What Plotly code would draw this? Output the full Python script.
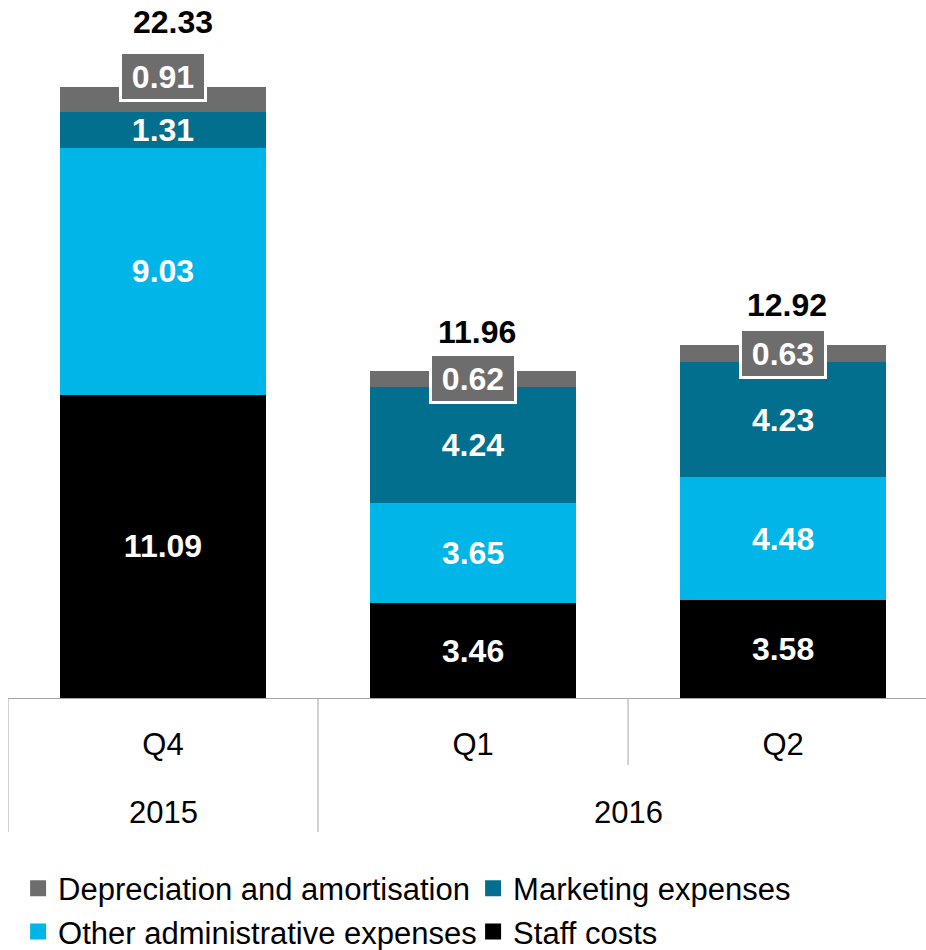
import plotly.graph_objects as go

years = ["2015", "2016", "2016"]
quarters = ["Q4", "Q1", "Q2"]
staff = [11.09, 3.46, 3.58]
other_admin = [9.03, 3.65, 4.48]
marketing = [1.31, 4.24, 4.23]
depreciation = [0.91, 0.62, 0.63]
totals = [22.33, 11.96, 12.92]

FONT = "Liberation Sans, Arial, sans-serif"
NUM_SIZE = 32
LBL_SIZE = 31
C_DEP = "#6d6d6d"
C_MKT = "#026f8e"
C_OTH = "#00b5e8"
C_STF = "#000000"

x = [0, 1, 2]

fig = go.Figure()
series = [
    ("Staff costs", staff, C_STF, True),
    ("Other administrative expenses", other_admin, C_OTH, True),
    ("Marketing expenses", marketing, C_MKT, True),
    ("Depreciation and amortisation", depreciation, C_DEP, False),
]
for name, vals, col, show_text in series:
    fig.add_trace(go.Bar(
        x=x, y=vals, name=name, marker=dict(color=col, line=dict(width=0)),
        text=[f"{v:.2f}" for v in vals] if show_text else None,
        textposition="inside" if show_text else "none",
        insidetextanchor="middle",
        textfont=dict(family=FONT, size=NUM_SIZE, color="white", weight="bold"),
        hoverinfo="skip", showlegend=False, legendgroup=name,
    ))
# legend entries with larger square swatches
for name, vals, col, _ in series:
    fig.add_trace(go.Scatter(
        x=[None], y=[None], mode="markers", name=name, legendgroup=name,
        marker=dict(symbol="square", size=18, color=col),
        hoverinfo="skip", showlegend=True,
    ))

# cumulative tops
tops = [s + o + m + d for s, o, m, d in zip(staff, other_admin, marketing, depreciation)]
dep_shift = [23, 0, 0]
tot_shift = [65, 39, 40]
tot_xshift = [10, 4, 4]
for i in range(3):
    centre = tops[i] - depreciation[i] / 2
    fig.add_annotation(
        x=x[i], y=centre, xref="x", yref="y", text=f"<b>{depreciation[i]:.2f}</b>",
        showarrow=False, yshift=dep_shift[i],
        font=dict(family=FONT, size=NUM_SIZE, color="white"),
        bgcolor=C_DEP, bordercolor="white", borderwidth=3, borderpad=0,
        width=82, height=45, valign="middle",
    )
    fig.add_annotation(
        x=x[i], y=tops[i], xref="x", yref="y", text=f"<b>{totals[i]:.2f}</b>",
        showarrow=False, yshift=tot_shift[i], xshift=tot_xshift[i], yanchor="middle",
        height=28, valign="middle", borderpad=0,
        font=dict(family=FONT, size=NUM_SIZE, color="black"),
    )

# year labels (outer category level)
fig.add_annotation(x=0, y=-0.1667, xref="x", yref="paper", text=years[0],
                   showarrow=False, yanchor="middle",
                   font=dict(family=FONT, size=LBL_SIZE, color="black"))
fig.add_annotation(x=1.5, y=-0.1667, xref="x", yref="paper", text=years[1],
                   showarrow=False, yanchor="middle",
                   font=dict(family=FONT, size=LBL_SIZE, color="black"))

# divider lines
LC = "#a6a6a6"
for xv, y0 in [(-0.5, -0.196), (0.5, -0.196), (1.5, -0.098)]:
    fig.add_shape(type="line", xref="x", yref="paper", x0=xv, x1=xv, y0=0, y1=y0,
                  line=dict(color=LC, width=1))

fig.update_layout(
    width=926, height=950,
    margin=dict(l=8, r=0, t=14, b=252, autoexpand=False),
    barmode="stack", bargap=0.335,
    plot_bgcolor="white", paper_bgcolor="white",
    font=dict(family=FONT, color="black"),
    uniformtext=dict(minsize=NUM_SIZE, mode="show"),
    xaxis=dict(range=[-0.5, 2.461], tickmode="array", tickvals=x, ticktext=quarters,
               showgrid=False, zeroline=False, showline=True, linecolor=LC, linewidth=1,
               ticks="", ticklabelstandoff=19,
               tickfont=dict(family=FONT, size=LBL_SIZE, color="black")),
    yaxis=dict(range=[0, 25], visible=False, showgrid=False, zeroline=False),
    showlegend=True,
    legend=dict(orientation="h", traceorder="reversed", x=0.011, y=-0.239,
                xanchor="left", yanchor="top", entrywidth=410, entrywidthmode="pixels",
                font=dict(family=FONT, size=LBL_SIZE, color="black"),
                itemclick=False, itemdoubleclick=False, tracegroupgap=0),
)

fig.write_html("out.html",
               config={"displayModeBar": False},
               post_script="document.body.style.margin='0';document.body.style.overflow='hidden';")
